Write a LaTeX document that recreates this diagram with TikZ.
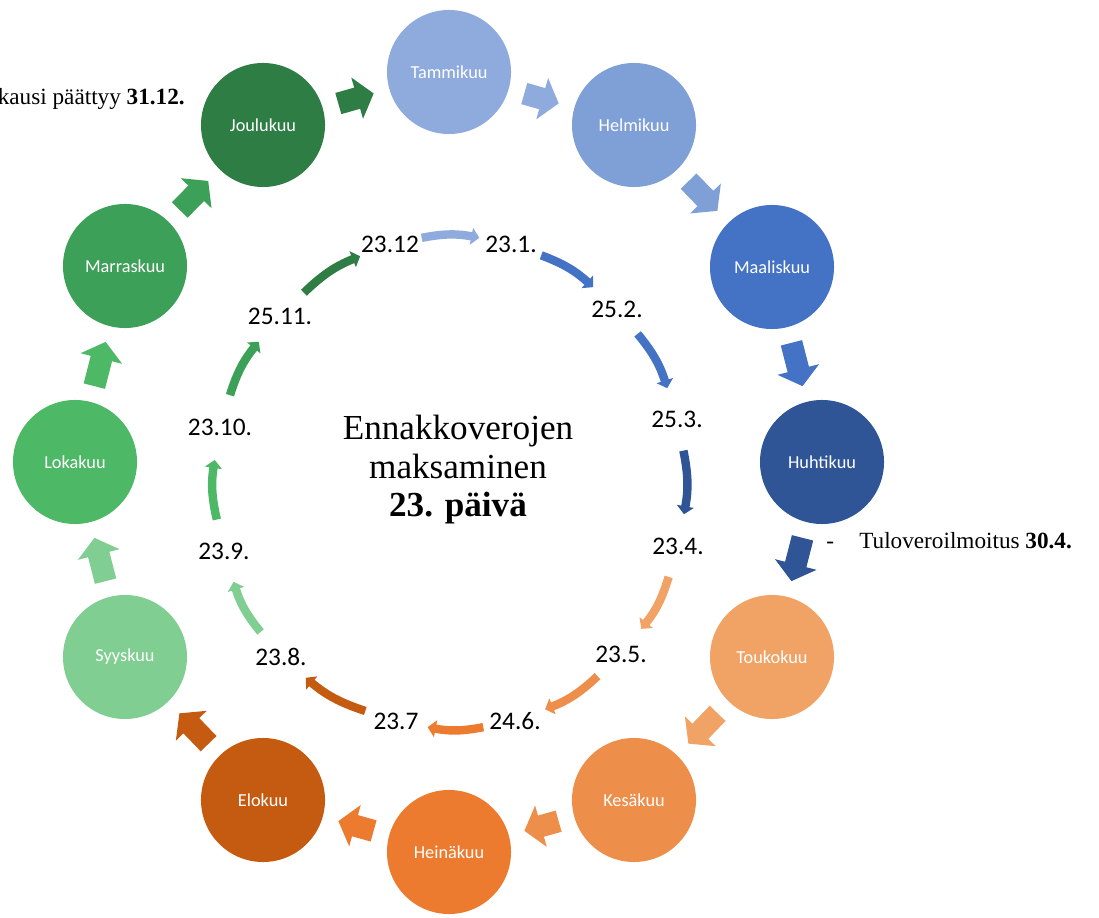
\documentclass[tikz,border=0pt]{standalone}
\usepackage{fontspec}
\setmainfont{Liberation Serif}
\newfontfamily\calibri{Carlito}
\usepackage{tikz}
\usetikzlibrary{arrows.meta}

\definecolor{cTammi}{HTML}{8FAADC}
\definecolor{cHelmi}{HTML}{7F9FD7}
\definecolor{cMaalis}{HTML}{4472C4}
\definecolor{cHuhti}{HTML}{2F5597}
\definecolor{cTouko}{HTML}{F1A366}
\definecolor{cKesa}{HTML}{EE8E4B}
\definecolor{cHeina}{HTML}{EC7B30}
\definecolor{cElo}{HTML}{C55A11}
\definecolor{cSyys}{HTML}{80CE91}
\definecolor{cLoka}{HTML}{4DB866}
\definecolor{cMarras}{HTML}{3DA058}
\definecolor{cJoulu}{HTML}{2E7D45}

\begin{document}
\begin{tikzpicture}[
 x=0.025cm,y=0.025cm,
 month/.style={circle,minimum size=3.1cm,inner sep=0pt,text=white,font=\calibri\fontsize{13}{15}\selectfont},
 day/.style={circle,minimum size=1.6cm,inner sep=0pt,font=\calibri\fontsize{18}{20}\selectfont},
 blk/.style={-{Triangle[length=0.43cm,width=1.05cm]},line width=0.55cm,shorten <=0.4cm,shorten >=0.4cm},
 dayarr/.style={-{Triangle[length=0.2cm,width=0.42cm]},line width=0.21cm,bend left=11},
 side/.style={inner sep=0pt,font=\fontsize{16.5}{20}\selectfont}
]
\useasboundingbox (0,0) rectangle (1099,-918);
% kuukaudet
\node[month,fill=cTammi] (tammi) at (449,-72) {Tammikuu};
\node[month,fill=cHelmi] (helmi) at (634,-125) {Helmikuu};
\node[month,fill=cMaalis] (maalis) at (772,-267) {Maaliskuu};
\node[month,fill=cHuhti] (huhti) at (822,-462) {Huhtikuu};
\node[month,fill=cTouko] (touko) at (772,-657) {Toukokuu};
\node[month,fill=cKesa] (kesa) at (634,-800) {Kesäkuu};
\node[month,fill=cHeina] (heina) at (449,-852) {Heinäkuu};
\node[month,fill=cElo] (elo) at (263,-800) {Elokuu};
\node[month,fill=cSyys] (syys) at (125,-657) {Syyskuu};
\node[month,fill=cLoka] (loka) at (75,-462) {Lokakuu};
\node[month,fill=cMarras] (marras) at (125,-266) {Marraskuu};
\node[month,fill=cJoulu] (joulu) at (263,-125) {Joulukuu};
\draw[blk,cJoulu] (joulu)--(tammi);
\draw[blk,cTammi] (tammi)--(helmi);
\draw[blk,cHelmi] (helmi)--(maalis);
\draw[blk,cMaalis] (maalis)--(huhti);
\draw[blk,cHuhti] (huhti)--(touko);
\draw[blk,cTouko] (touko)--(kesa);
\draw[blk,cKesa] (kesa)--(heina);
\draw[blk,cHeina] (heina)--(elo);
\draw[blk,cElo] (elo)--(syys);
\draw[blk,cSyys] (syys)--(loka);
\draw[blk,cLoka] (loka)--(marras);
\draw[blk,cMarras] (marras)--(joulu);
% maksupäivät
\node[day] (d1) at (511,-244) {23.1.};
\node[day] (d2) at (617,-309) {25.2.};
\node[day] (d3) at (677,-419) {25.3.};
\node[day] (d4) at (678,-546) {23.4.};
\node[day] (d5) at (621,-654) {23.5.};
\node[day] (d6) at (515,-721) {24.6.};
\node[day] (d7) at (396,-721) {23.7};
\node[day] (d8) at (281,-657) {23.8.};
\node[day] (d9) at (224,-551) {23.9.};
\node[day] (d10) at (220,-427) {23.10.};
\node[day] (d11) at (280,-316) {25.11.};
\node[day] (d12) at (390,-244) {23.12};
\draw[dayarr,cTammi] (d12) to (d1);
\draw[dayarr,cMaalis] (d1) to (d2);
\draw[dayarr,cMaalis] (d2) to (d3);
\draw[dayarr,cHuhti] (d3) to (d4);
\draw[dayarr,cTouko] (d4) to (d5);
\draw[dayarr,cKesa] (d5) to (d6);
\draw[dayarr,cHeina] (d6) to (d7);
\draw[dayarr,cElo] (d7) to (d8);
\draw[dayarr,cSyys] (d8) to (d9);
\draw[dayarr,cLoka] (d9) to (d10);
\draw[dayarr,cMarras] (d10) to (d11);
\draw[dayarr,cJoulu] (d11) to (d12);
% tekstit
\node[align=center,font=\fontsize{25}{27.4}\selectfont] (otsikko) at (458,-470) {Ennakkoverojen\\maksaminen\\\textbf{23. päivä}};
\node[side,anchor=base east] (tilikausi) at (185,-105) {kausi päättyy \textbf{31.12.}};
\node[side,anchor=base west] (tulovero) at (826,-548) {-\hspace{18pt}Tuloveroilmoitus \textbf{30.4.}};
\end{tikzpicture}
\end{document}
